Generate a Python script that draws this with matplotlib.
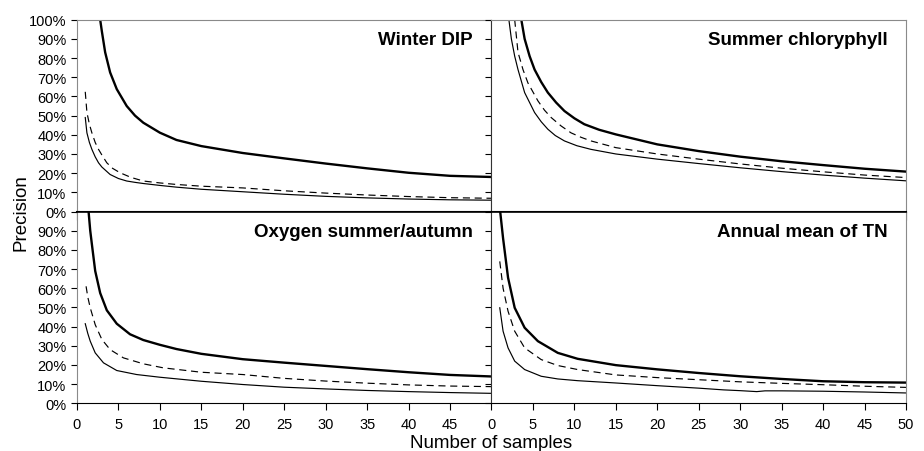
import matplotlib
matplotlib.use("Agg")
import matplotlib.pyplot as plt
from matplotlib.ticker import FuncFormatter

plt.rcParams["font.family"] = ["Liberation Sans", "DejaVu Sans"]

# Winter DIP
dip_thin_n = [1, 1.2, 1.5, 1.8, 2.2, 2.6, 3, 4, 5, 6, 7, 8, 10, 12, 15, 20, 25, 30, 35, 40, 45, 50]
dip_thin_y = [49, 41, 36, 32.4, 28.5, 25.4, 23.2, 19.3, 17.2, 15.9, 15.2, 14.6, 13.6, 12.7, 11.6, 10.3, 9.0, 7.9, 7.1, 6.5, 6.1, 5.9]
dip_dash_n = [1, 1.2, 1.5, 1.8, 2.2, 2.6, 3, 3.6, 4.3, 5.2, 6.5, 8, 10, 12, 15, 20, 25, 30, 35, 40, 45, 50]
dip_dash_y = [62.4, 51.6, 45.5, 41, 36, 32.4, 29.5, 25.4, 22.5, 20.2, 17.8, 15.9, 14.9, 14.1, 13.2, 12.3, 10.8, 9.6, 8.6, 7.8, 7.2, 6.9]
dip_thick_n = [2.8, 3, 3.4, 4, 4.8, 6, 7, 8, 10, 12, 15, 20, 25, 30, 35, 40, 45, 50]
dip_thick_y = [100, 94, 83, 72.5, 63.8, 55, 50, 46.3, 41.1, 37.3, 34.1, 30.5, 27.7, 25, 22.5, 20.2, 18.6, 18]

# Summer chlorophyll
chl_thin_n = [2.1, 2.4, 2.8, 3.2, 4, 5.2, 6, 6.8, 7.7, 8.8, 10.3, 12, 15, 20, 25, 30, 35, 40, 45, 50]
chl_thin_y = [100, 90, 81, 74, 62, 51.6, 46.8, 42.9, 39.6, 36.8, 34.3, 32.4, 30, 27.3, 25, 22.8, 20.8, 19, 17.4, 16]
chl_dash_n = [2.8, 3.2, 3.8, 4.4, 5.6, 6.4, 7.2, 8.4, 9.6, 10.8, 12, 15, 20, 25, 30, 35, 40, 45, 50]
chl_dash_y = [100, 83, 74, 67, 57.7, 52.8, 49, 44.6, 41, 38.7, 36.8, 33.3, 30, 27.3, 24.8, 22.6, 20.7, 19, 17.7]
chl_thick_n = [3.6, 4, 4.6, 5.2, 6, 6.8, 7.8, 8.8, 10, 11.2, 13, 15, 20, 25, 30, 35, 40, 45, 50]
chl_thick_y = [100, 90, 81, 74, 67.5, 62, 56.8, 52.4, 48.6, 45.5, 42.6, 40.2, 35, 31.5, 28.6, 26.2, 24.2, 22.3, 20.8]

# Oxygen summer/autumn
oxy_thin_n = [1, 1.3, 1.6, 2.2, 3.2, 4.8, 7.2, 10, 15, 20, 25, 30, 35, 40, 45, 50]
oxy_thin_y = [41.5, 36.5, 32.4, 26.3, 21.1, 17.1, 15, 13.6, 11.5, 9.8, 8.4, 7.5, 6.7, 6.1, 5.6, 5.2]
oxy_dash_n = [1.1, 1.3, 1.6, 2.2, 3, 4, 5.6, 8, 10.4, 15, 20, 25, 30, 35, 40, 45, 50]
oxy_dash_y = [61, 55.5, 49.8, 41, 33.3, 28, 23.7, 20.6, 18.5, 16.2, 15, 13, 11.6, 10.5, 9.6, 9.0, 8.7]
oxy_thick_n = [1.4, 1.6, 1.8, 2.2, 2.8, 3.6, 4.8, 6.4, 8, 10, 12, 15, 20, 25, 30, 35, 40, 45, 50]
oxy_thick_y = [100, 90, 82.9, 69, 57.5, 48.5, 41.5, 36, 33, 30.5, 28.3, 25.8, 23, 21.2, 19.5, 17.8, 16.2, 14.8, 14]

# Annual mean of TN
tn_thin_n = [1, 1.4, 2, 2.8, 4, 6, 8, 10.4, 15, 20, 25, 28, 30, 32, 33, 35, 40, 45, 50]
tn_thin_y = [49.8, 37.6, 28.9, 22, 17.6, 14.1, 12.7, 11.8, 10.6, 9.2, 7.9, 7.0, 6.6, 6.1, 6.5, 6.5, 6.3, 5.9, 5.4]
tn_dash_n = [1, 1.4, 2, 2.8, 4, 6, 8, 10.4, 15, 20, 25, 30, 35, 40, 45, 50]
tn_dash_y = [74, 60, 48, 37.6, 28.9, 22.8, 19.7, 17.6, 14.8, 13.4, 12.3, 11.2, 10.4, 9.7, 8.9, 8.3]
tn_thick_n = [1.05, 1.4, 2, 2.8, 4, 5.6, 8, 10.4, 15, 20, 25, 30, 35, 40, 45, 50]
tn_thick_y = [100, 86, 65.5, 49.8, 39.4, 32.4, 26.3, 23.2, 19.9, 17.7, 15.8, 14.1, 12.7, 11.5, 11, 10.8]

panels = [
    ("Winter DIP", dip_thin_n, dip_thin_y, dip_dash_n, dip_dash_y, dip_thick_n, dip_thick_y),
    ("Summer chloryphyll", chl_thin_n, chl_thin_y, chl_dash_n, chl_dash_y, chl_thick_n, chl_thick_y),
    ("Oxygen summer/autumn", oxy_thin_n, oxy_thin_y, oxy_dash_n, oxy_dash_y, oxy_thick_n, oxy_thick_y),
    ("Annual mean of TN", tn_thin_n, tn_thin_y, tn_dash_n, tn_dash_y, tn_thick_n, tn_thick_y),
]

y_ticks = list(range(0, 101, 10))
x_ticks = list(range(0, 51, 5))

fig, axes = plt.subplots(2, 2, figsize=(9.24, 4.52), dpi=100)
plt.subplots_adjust(left=0.0833, right=0.9805, top=0.9542, bottom=0.1055, hspace=0, wspace=0)

pct = FuncFormatter(lambda v, p: "%d%%" % v)
grey = "#8a8a8a"

for i, ax in enumerate(axes.flat):
    title, tn, ty, dn, dy, kn, ky = panels[i]
    row, col = divmod(i, 2)
    ax.plot(tn, ty, color="black", lw=0.85)
    ax.plot(dn, dy, color="black", lw=0.85, dashes=(6, 4))
    ax.plot(kn, ky, color="black", lw=1.7)
    ax.set_xlim(0, 50)
    ax.set_ylim(0, 100)
    ax.set_yticks(y_ticks)
    ax.set_xticks(x_ticks)
    ax.yaxis.set_major_formatter(pct)
    ax.tick_params(direction="out", length=4, width=0.8, labelsize=10.5, colors="black")
    ax.tick_params(axis="x", length=5, pad=4.5)
    ax.text(0.955, 0.94, title, transform=ax.transAxes, ha="right", va="top",
            fontsize=13.5, fontweight="bold")

    for s in ax.spines.values():
        s.set_linewidth(0.8)
    ax.spines["top"].set_color(grey if row == 0 else "black")
    ax.spines["right"].set_color(grey)
    ax.spines["left"].set_color(grey if col == 0 else "#333333")
    if row == 0:
        ax.spines["bottom"].set_linewidth(1.5)
        ax.tick_params(axis="x", labelbottom=False, length=5.5)
    else:
        ax.spines["top"].set_linewidth(1.2)
    if col == 1:
        ax.tick_params(axis="y", labelleft=False)
    if row == 1 and col == 0:
        ax.set_yticks(y_ticks[:-1])
        ax.set_xticks(x_ticks[:-1])

fig.text(0.531, 0.008, "Number of samples", ha="center", va="baseline", fontsize=13.5)
fig.text(0.013, 0.53, "Precision", ha="left", va="center", rotation=90, fontsize=13.5)

fig.savefig("out.png", dpi=100)
